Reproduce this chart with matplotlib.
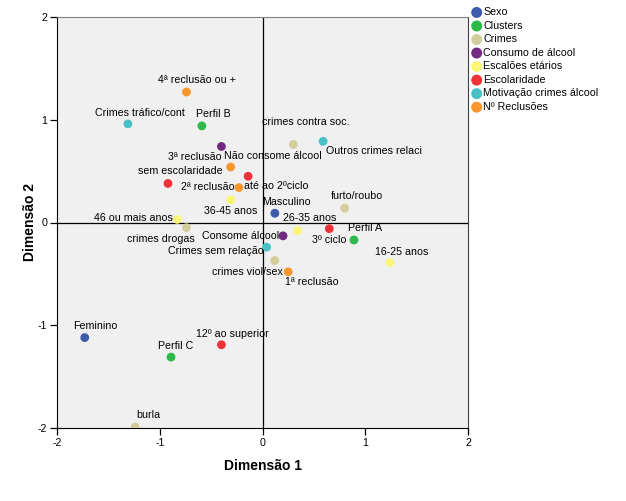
import matplotlib
matplotlib.use("Agg")
import matplotlib.pyplot as plt

plt.rcParams['font.family'] = ['Liberation Sans', 'DejaVu Sans']
plt.rcParams['axes.unicode_minus'] = False

# category groups (legend order)
groups = ["Sexo", "Clusters", "Crimes", "Consumo de álcool", "Escalões etários",
          "Escolaridade", "Motivação crimes álcool", "Nº Reclusões"]
colors = ["#3D5BAB", "#2DB84A", "#D2CD9A", "#722A80", "#FBF776",
          "#EE3238", "#48C1C5", "#F7962F"]

sexo_lab = ["Masculino", "Feminino"]
sexo_x = [0.12, -1.73]
sexo_y = [0.09, -1.12]

clus_lab = ["Perfil A", "Perfil B", "Perfil C"]
clus_x = [0.89, -0.59, -0.89]
clus_y = [-0.17, 0.94, -1.31]

crim_lab = ["crimes contra soc.", "furto/roubo", "crimes drogas", "crimes viol/sex", "burla"]
crim_x = [0.30, 0.80, -0.74, 0.12, -1.24]
crim_y = [0.76, 0.14, -0.05, -0.37, -1.99]

alc_lab = ["Não consome álcool", "Consome álcool"]
alc_x = [-0.40, 0.20]
alc_y = [0.74, -0.13]

idade_lab = ["46 ou mais anos", "36-45 anos", "26-35 anos", "16-25 anos"]
idade_x = [-0.83, -0.31, 0.34, 1.24]
idade_y = [0.03, 0.22, -0.08, -0.39]

esc_lab = ["sem escolaridade", "até ao 2ºciclo", "3º ciclo", "12º ao superior"]
esc_x = [-0.92, -0.14, 0.65, -0.40]
esc_y = [0.38, 0.45, -0.06, -1.19]

mot_lab = ["Crimes tráfico/cont", "Outros crimes relaci", "Crimes sem relação"]
mot_x = [-1.31, 0.59, 0.04]
mot_y = [0.96, 0.79, -0.24]

rec_lab = ["4ª reclusão ou +", "3ª reclusão", "2ª reclusão", "1ª reclusão"]
rec_x = [-0.74, -0.31, -0.23, 0.25]
rec_y = [1.27, 0.54, 0.34, -0.48]

series = [(sexo_lab, sexo_x, sexo_y), (clus_lab, clus_x, clus_y),
          (crim_lab, crim_x, crim_y), (alc_lab, alc_x, alc_y),
          (idade_lab, idade_x, idade_y), (esc_lab, esc_x, esc_y),
          (mot_lab, mot_x, mot_y), (rec_lab, rec_x, rec_y)]

# label offsets in pixels (text centre relative to point)
offs = {
    "4ª reclusão ou +": (10, 12), "Crimes tráfico/cont": (12, 11), "Perfil B": (11, 12),
    "crimes contra soc.": (12, 22), "Não consome álcool": (51, -10), "3ª reclusão": (-36, 10),
    "Outros crimes relaci": (51, -10), "sem escolaridade": (12, 12), "2ª reclusão": (-31, 1),
    "até ao 2ºciclo": (28, -10), "furto/roubo": (12, 12), "36-45 anos": (0, -11),
    "Masculino": (12, 11), "26-35 anos": (12, 13), "46 ou mais anos": (-44, 1),
    "Perfil A": (11, 12), "crimes drogas": (-26, -11), "Consome álcool": (-42, 0),
    "3º ciclo": (0, -11), "Crimes sem relação": (-51, -4), "16-25 anos": (12, 11),
    "crimes viol/sex": (-27, -11), "1ª reclusão": (24, -10), "Feminino": (11, 12),
    "12º ao superior": (11, 11), "Perfil C": (5, 11), "burla": (13, 12),
}

fig = plt.figure(figsize=(6.26, 5.01), dpi=100)
ax = fig.add_axes([57/626, 73/501, 411/626, 411/501])
ax.set_facecolor("#F0F0F0")

ax.axhline(0, color="black", lw=0.9, zorder=1)
ax.axvline(0, color="black", lw=0.9, zorder=1)

handles = []
for g, c, (labs, xs, ys) in zip(groups, colors, series):
    h = ax.scatter(xs, ys, s=40, color=c, edgecolors="none", zorder=3, label=g)
    handles.append(h)
    for lab, x, y in zip(labs, xs, ys):
        dx, dy = offs[lab]
        ax.annotate(lab, (x, y), xytext=(dx, dy), textcoords="offset pixels",
                    ha="center", va="center", fontsize=7.7, zorder=4)

ax.set_xlim(-2, 2)
ax.set_ylim(-2, 2)
ax.set_xticks([-2, -1, 0, 1, 2])
ax.set_yticks([-2, -1, 0, 1, 2])
ax.tick_params(labelsize=7.7, length=5, width=0.9, direction="out", pad=2)
ax.spines["left"].set_color("black")
ax.spines["bottom"].set_color("black")
ax.spines["top"].set_color("#808080")
ax.spines["right"].set_color("#404040")
ax.set_xlabel("Dimensão 1", fontsize=10, fontweight="bold", labelpad=8)
ax.set_ylabel("Dimensão 2", fontsize=10, fontweight="bold", labelpad=1)

fig.legend(handles=handles, loc="upper left", bbox_to_anchor=(466/626, 1 - 3/501),
           frameon=False, fontsize=7.7, handletextpad=0.0, labelspacing=0.33,
           borderaxespad=0, markerscale=1.25, handlelength=1.2)

fig.savefig("out.png", dpi=100)
